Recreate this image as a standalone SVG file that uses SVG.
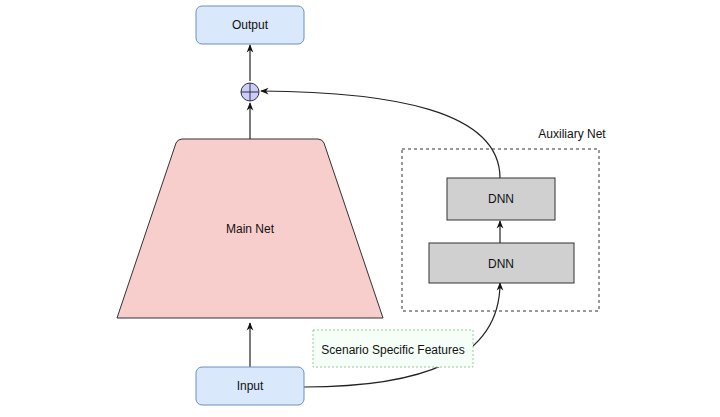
<svg xmlns="http://www.w3.org/2000/svg" width="720" height="417" viewBox="0 0 720 417">
<defs>
<style>
text{font-family:"Liberation Sans",Arial,sans-serif;font-size:12px;fill:#111;text-anchor:middle}
.blue{fill:#dae8fc;stroke:#6c8ebf;stroke-width:1}
.gray{fill:#d0d0d0;stroke:#333;stroke-width:1}
.c{fill:none;stroke:#222;stroke-width:1.2}
</style>
<marker id="a" viewBox="0 0 10 10" refX="9" refY="5" markerWidth="7" markerHeight="7" orient="auto"><path d="M0,1 L10,5 L0,9 L3,5 Z" fill="#111"/></marker>
</defs>
<rect width="720" height="417" fill="#fff"/>
<g id="connectors">
<line class="c" x1="250" y1="139" x2="250" y2="103" marker-end="url(#a)"/>
<line class="c" x1="250" y1="81" x2="250" y2="45" marker-end="url(#a)"/>
<line class="c" x1="250" y1="367" x2="250" y2="323" marker-end="url(#a)"/>
<path class="c" d="M500,178 C500,110 390,92 261,91" marker-end="url(#a)"/>
<line class="c" x1="500" y1="243" x2="500" y2="221" marker-end="url(#a)"/>
<path class="c" d="M304,387 C420,387 500,360 500,283" marker-end="url(#a)"/>
</g>
<g id="output"><rect class="blue" x="196" y="6" width="108" height="38" rx="6"/><text x="250" y="29">Output</text></g>
<g id="sum"><circle cx="250" cy="92" r="9" fill="#ccccff" stroke="#333"/><path d="M241,92 H259 M250,83 V101" stroke="#333" fill="none"/></g>
<g id="mainnet"><path d="M182,139 L318,139 Q322,139 324,143 L383,318 L117,318 L176,143 Q178,139 182,139 Z" fill="#f8cecc" stroke="#333"/><text x="250" y="233">Main Net</text></g>
<g id="aux"><rect x="402" y="149" width="197" height="162" fill="none" stroke="#333" stroke-dasharray="3,3"/><text x="572" y="138">Auxiliary Net</text></g>
<g id="dnn1"><rect class="gray" x="447" y="178" width="108" height="42"/><text x="501" y="203">DNN</text></g>
<g id="dnn2"><rect class="gray" x="429" y="243" width="145" height="40"/><text x="501" y="268">DNN</text></g>
<g id="ssf"><rect x="313" y="330" width="160" height="37" fill="#f5fff8" stroke="#9c9" stroke-dasharray="2,2"/><text x="393" y="354">Scenario Specific Features</text></g>
<g id="input"><rect class="blue" x="196" y="367" width="108" height="38" rx="6"/><text x="250" y="390">Input</text></g>
</svg>
